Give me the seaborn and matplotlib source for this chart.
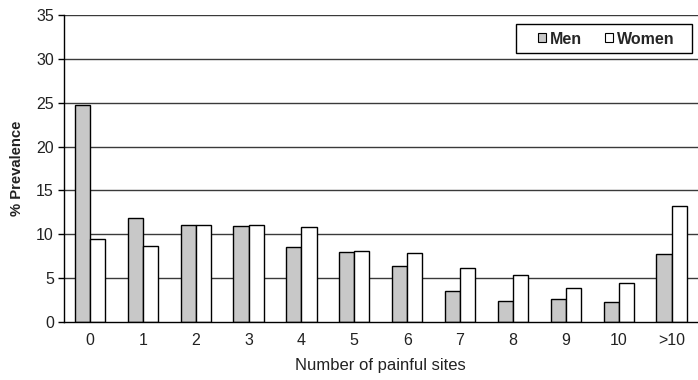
import matplotlib
matplotlib.use("Agg")
import matplotlib.pyplot as plt
import seaborn as sns
import pandas as pd
from matplotlib.patches import Patch, Rectangle

categories = ["0", "1", "2", "3", "4", "5", "6", "7", "8", "9", "10", ">10"]
men = [24.8, 11.9, 11.0, 10.9, 8.5, 8.0, 6.4, 3.5, 2.4, 2.6, 2.2, 7.7]
women = [9.5, 8.7, 11.1, 11.1, 10.8, 8.1, 7.8, 6.1, 5.3, 3.9, 4.4, 13.2]
series = ["Men", "Women"]
colors = ["#c8c8c8", "#ffffff"]

df = pd.DataFrame({
    "cat": categories * 2,
    "val": men + women,
    "sex": ["Men"] * len(categories) + ["Women"] * len(categories),
})

sns.set_theme(style="white")
plt.rcParams["font.family"] = ["Liberation Sans", "DejaVu Sans"]

W, H = 698, 380
fig = plt.figure(figsize=(W / 100, H / 100), dpi=100)
ax = fig.add_axes([63.5 / W, 1 - 321.7 / H, 1 - 63.5 / W, (321.7 - 15.3) / H])

for y in range(5, 40, 5):
    ax.axhline(y, color="#3a3a3a", lw=1.0, zorder=0)

sns.barplot(data=df, x="cat", y="val", hue="sex", order=categories,
            hue_order=series, palette=colors, edgecolor="black", linewidth=1.0,
            width=0.573, gap=0, ax=ax, legend=False, zorder=2)

ax.set_ylim(0, 35)
ax.set_xlim(-0.5, -0.5 + (W - 63.5) / 53.4)
ax.set_yticks(range(0, 40, 5))
ax.set_xticks(range(len(categories)))
ax.set_xticklabels(categories)
ax.set_xticks([i + 0.5 for i in range(-1, len(categories))], minor=True)
ax.tick_params(axis="x", which="major", length=0, pad=8, labelsize=11.5, colors="#222222")
ax.tick_params(axis="x", which="minor", length=4, width=1, color="black", direction="out")
ax.tick_params(axis="y", length=4, width=1, color="black", direction="out", pad=3,
               labelsize=11.5, labelcolor="#222222", left=True)
ax.grid(False)
for s in ["top", "right"]:
    ax.spines[s].set_visible(False)
for s in ["left", "bottom"]:
    ax.spines[s].set_color("black")
    ax.spines[s].set_linewidth(1.0)
    ax.spines[s].set_zorder(3)

ax.set_xlabel("Number of painful sites", fontsize=12, color="#222222", labelpad=7)
ax.set_ylabel("% Prevalence", fontsize=10.7, fontweight="bold", color="#222222", labelpad=9)

# legend frame
fig.patches.append(Rectangle((516 / W, 1 - 53.3 / H), (692 - 516) / W, (53.3 - 24.3) / H,
                             transform=fig.transFigure, facecolor="white",
                             edgecolor="black", linewidth=1.0, zorder=4))
handles = [Patch(facecolor=c, edgecolor="black", linewidth=0.8) for c in colors]
leg = fig.legend(handles, series, ncol=2, loc="center left",
                 bbox_to_anchor=(538 / W, 1 - 39 / H), bbox_transform=fig.transFigure,
                 borderaxespad=0, borderpad=0, frameon=False,
                 handlelength=0.5, handleheight=0.5,
                 handletextpad=0.25, columnspacing=1.45,
                 prop={"weight": "bold", "size": 11.5})
leg.set_zorder(5)

fig.savefig("out.png", dpi=100)
